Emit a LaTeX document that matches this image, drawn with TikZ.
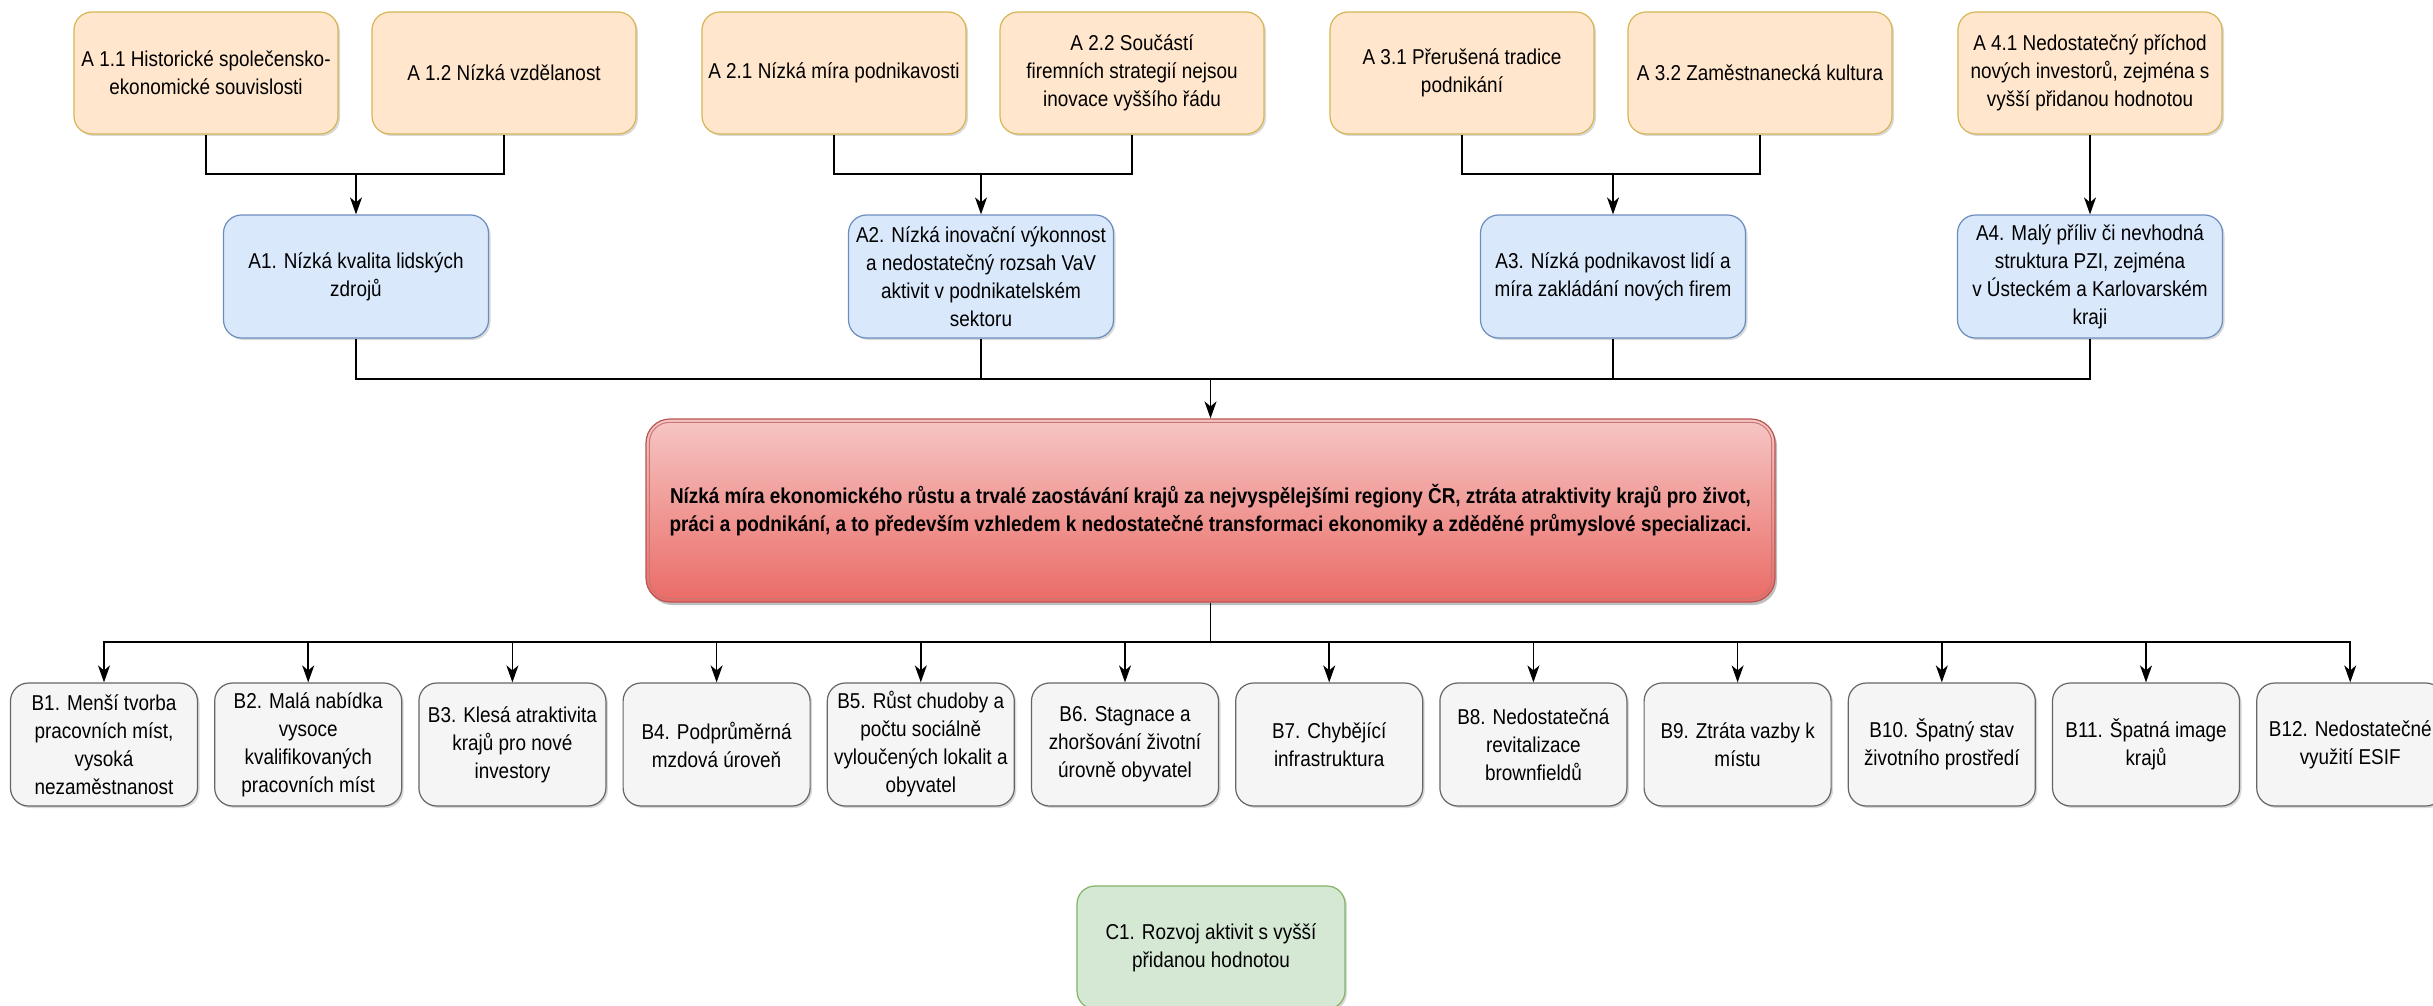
\documentclass[tikz,border=0pt]{standalone}
\usepackage{fontspec}
\setmainfont{Liberation Sans}[FakeStretch=0.88]
\usetikzlibrary{arrows.meta,shadows}
\definecolor{orfill}{HTML}{FFE6CC}
\definecolor{ordraw}{HTML}{D6B656}
\definecolor{blfill}{HTML}{DAE8FC}
\definecolor{bldraw}{HTML}{6C8EBF}
\definecolor{grfill}{HTML}{F5F5F5}
\definecolor{grdraw}{HTML}{666666}
\definecolor{gnfill}{HTML}{D5E8D4}
\definecolor{gndraw}{HTML}{82B366}
\definecolor{rdtop}{HTML}{F6C6C4}
\definecolor{rdbot}{HTML}{EA6B66}
\definecolor{rddraw}{HTML}{B85450}
\tikzset{
  box/.style={rectangle, rounded corners=18pt, align=center, line width=1.2pt,
    font=\fontsize{21.5}{28}\selectfont, inner sep=0pt,
    drop shadow={shadow xshift=2pt, shadow yshift=-2pt, opacity=0.15, fill=black}},
  abox/.style={box, fill=orfill, draw=ordraw, minimum width=264pt, minimum height=122pt},
  mbox/.style={box, fill=blfill, draw=bldraw, minimum width=265pt, minimum height=123pt},
  bbox/.style={box, fill=grfill, draw=grdraw, minimum width=187pt, minimum height=123pt},
  cbox/.style={box, fill=gnfill, draw=gndraw, minimum width=268pt, minimum height=123pt},
  conn/.style={line width=1.6pt, black},
  arr/.style={conn, -{Stealth[length=17pt, width=12pt, inset=5pt]}},
}
\begin{document}
\begin{tikzpicture}[x=1pt, y=-1pt]
\useasboundingbox[fill=white] (0,0) rectangle (2433,1006);
% top row
\node[abox] (a11) at (206,73) {A 1.1 Historické společensko-\\ekonomické souvislosti};
\node[abox] (a12) at (504,73) {A 1.2 Nízká vzdělanost};
\node[abox] (a21) at (834,73) {A 2.1 Nízká míra podnikavosti};
\node[abox] (a22) at (1132,73) {A 2.2 Součástí\\firemních strategií nejsou\\inovace vyššího řádu};
\node[abox] (a31) at (1462,73) {A 3.1 Přerušená tradice\\podnikání};
\node[abox] (a32) at (1760,73) {A 3.2 Zaměstnanecká kultura};
\node[abox] (a41) at (2090,73) {A 4.1 Nedostatečný příchod\\nových investorů, zejména s\\vyšší přidanou hodnotou};
% second row
\node[mbox] (a1) at (356,276.5) {A1. Nízká kvalita lidských\\zdrojů};
\node[mbox] (a2) at (981,276.5) {A2. Nízká inovační výkonnost\\a nedostatečný rozsah VaV\\aktivit v podnikatelském\\sektoru};
\node[mbox] (a3) at (1613,276.5) {A3. Nízká podnikavost lidí a\\míra zakládání nových firem};
\node[mbox] (a4) at (2090,276.5) {A4. Malý příliv či nevhodná\\struktura PZI, zejména\\v Ústeckém a Karlovarském\\kraji};
% central box
\node[rectangle, rounded corners=24pt, minimum width=1129pt, minimum height=183pt,
  top color=rdtop, bottom color=rdbot, draw=rddraw, line width=1.2pt, align=center,
  font=\fontsize{21.5}{28}\selectfont\bfseries, inner sep=0pt,
  drop shadow={shadow xshift=2pt, shadow yshift=-3pt, opacity=0.25, fill=black}] (r) at (1210.5,510.5)
  {Nízká míra ekonomického růstu a trvalé zaostávání krajů za nejvyspělejšími regiony ČR, ztráta atraktivity krajů pro život,\\práci a podnikání, a to především vzhledem k nedostatečné transformaci ekonomiky a zděděné průmyslové specializaci.};
\draw[rddraw!80, line width=1pt, rounded corners=20pt] ([shift={(4pt,-4pt)}]r.north west) rectangle ([shift={(-4pt,4pt)}]r.south east);
% B row
\foreach \i/\t in {1/{B1. Menší tvorba\\pracovních míst,\\vysoká\\nezaměstnanost},
  2/{B2. Malá nabídka\\vysoce\\kvalifikovaných\\pracovních míst},
  3/{B3. Klesá atraktivita\\krajů pro nové\\investory},
  4/{B4. Podprůměrná\\mzdová úroveň},
  5/{B5. Růst chudoby a\\počtu sociálně\\vyloučených lokalit a\\obyvatel},
  6/{B6. Stagnace a\\zhoršování životní\\úrovně obyvatel},
  7/{B7. Chybějící\\infrastruktura},
  8/{B8. Nedostatečná\\revitalizace\\brownfieldů},
  9/{B9. Ztráta vazby k\\místu},
  10/{B10. Špatný stav\\životního prostředí},
  11/{B11. Špatná image\\krajů},
  12/{B12. Nedostatečné\\využití ESIF}}{
  \node[bbox] (b\i) at ({104+204.2*(\i-1)},744.5) {\t};
}
% C
\node[cbox] (c1) at (1211,947.5) {C1. Rozvoj aktivit s vyšší\\přidanou hodnotou};
% connectors top
\coordinate (j1) at (356,174);
\coordinate (j2) at (981,174);
\coordinate (j3) at (1613,174);
\draw[conn] (a11.south) |- (j1) -| (a12.south);
\draw[arr] (j1) -- (a1.north);
\draw[conn] (a21.south) |- (j2) -| (a22.south);
\draw[arr] (j2) -- (a2.north);
\draw[conn] (a31.south) |- (j3) -| (a32.south);
\draw[arr] (j3) -- (a3.north);
\draw[arr] (a41.south) -- (a4.north);
% A to red
\coordinate (jr) at (1210.5,379);
\draw[conn] (a1.south) |- (jr);
\draw[conn] (a2.south) |- (jr);
\draw[conn] (a3.south) |- (jr);
\draw[conn] (a4.south) |- (jr);
\draw[arr] (jr) -- (r.north);
% red to B
\coordinate (jb) at (1210.5,642);
\draw[conn] (r.south) -- (jb);
\foreach \i in {1,...,12}{
  \draw[arr] (jb) -| (b\i.north);
}
\end{tikzpicture}
\end{document}
